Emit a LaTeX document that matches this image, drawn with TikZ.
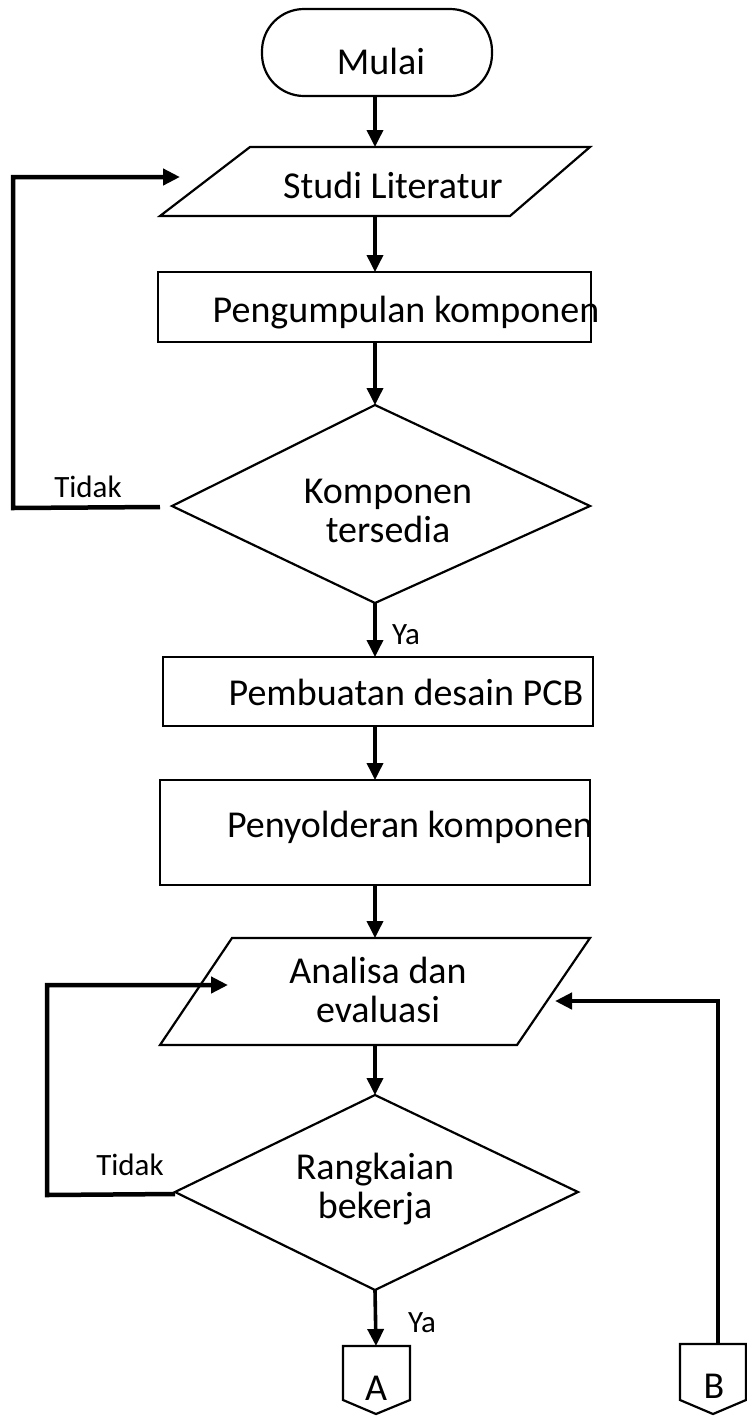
\documentclass[tikz,border=0pt]{standalone}
\usepackage{fontspec}
\setmainfont{Carlito}
\usetikzlibrary{arrows.meta,shapes.geometric}
\begin{document}
\begin{tikzpicture}[x=1pt,y=-1pt,
  shapeline/.style={draw=black,line width=2.2pt,line join=miter},
  conn/.style={draw=black,line width=3.6pt},
  arr/.style={conn,-{Triangle[length=17pt,width=16pt]}},
  big/.style={font=\fontsize{38}{44}\selectfont,inner sep=0pt},
  small/.style={font=\fontsize{31}{36}\selectfont,inner sep=0pt},
  txt/.style={big,align=center}]
\useasboundingbox (0,0) rectangle (747,1417);
% shapes
\draw[shapeline,rounded corners=42pt] (262,9) rectangle (492,96);
\node[txt] (mulai) at (381,61) {Mulai};
\coordinate (mulaiB) at (375,96);

\draw[shapeline] (160,216) -- (250,147) -- (590,147) -- (510,216) -- cycle;
\node[txt] (studi) at (393,185) {Studi Literatur};
\coordinate (studiT) at (375,147);
\coordinate (studiB) at (375,216);
\coordinate (studiL) at (180,177);

\draw[shapeline] (158,272) rectangle (591,342);
\node[txt] (kump) at (406,313) {Pengumpulan komponen};
\coordinate (kumpT) at (375,272);
\coordinate (kumpB) at (375,342);

\draw[shapeline] (375,405) -- (590,506) -- (375,603) -- (172,506) -- cycle;
\node[txt] (kt) at (388,511) {Komponen\\[-5pt]tersedia};
\coordinate (ktT) at (375,405);
\coordinate (ktB) at (375,603);
\coordinate (ktL) at (160,507);

\draw[shapeline] (163,657) rectangle (593,726);
\node[txt] (pcb) at (406,692) {Pembuatan desain PCB};
\coordinate (pcbT) at (375,657);
\coordinate (pcbB) at (375,726);

\draw[shapeline] (160,780) rectangle (590,885);
\node[txt] (solder) at (410,827) {Penyolderan komponen};
\coordinate (solderT) at (375,780);
\coordinate (solderB) at (375,885);

\draw[shapeline] (160,1045) -- (232,938) -- (590,938) -- (517,1045) -- cycle;
\node[txt] (anal) at (378,990) {Analisa dan\\[-5pt]evaluasi};
\coordinate (analT) at (375,938);
\coordinate (analB) at (375,1045);
\coordinate (analL) at (228,985);
\coordinate (analR) at (555,1001);

\draw[shapeline] (375,1095) -- (578,1192) -- (375,1290) -- (175,1192) -- cycle;
\node[txt] (rb) at (375,1189) {Rangkaian\\[-5pt]bekerja};
\coordinate (rbT) at (375,1095);
\coordinate (rbB) at (375,1290);
\coordinate (rbL) at (175,1194);

\draw[shapeline] (343,1346) -- (410,1346) -- (410,1400) -- (376,1414) -- (343,1400) -- cycle;
\node[txt] (A) at (376,1388) {A};
\coordinate (AT) at (376,1346);

\draw[shapeline] (680,1344) -- (746,1344) -- (746,1400) -- (713,1414) -- (680,1400) -- cycle;
\node[txt] (B) at (714,1386) {B};
\coordinate (BT) at (718,1344);

% connectors
\draw[arr] (mulaiB) -- (studiT);
\draw[arr] (studiB) -- (kumpT);
\draw[arr] (kumpB) -- (ktT);
\draw[arr] (ktB) -- (pcbT);
\draw[arr] (pcbB) -- (solderT);
\draw[arr] (solderB) -- (analT);
\draw[arr] (analB) -- (rbT);
\draw[arr] (rbB) -- (AT);
\draw[arr,line width=4.5pt] (ktL) -- (13,508) -- (13,177) -- (studiL);
\draw[arr,line width=4.5pt] (rbL) -- (47,1195) -- (47,985) -- (analL);
\draw[arr,line width=4.5pt] (BT) -- (718,1001) -- (analR);

% labels
\node[small] (t1) at (88,487) {Tidak};
\node[small] (t2) at (130,1165) {Tidak};
\node[small] (y1) at (406,635) {Ya};
\node[small] (y2) at (422,1323) {Ya};
\end{tikzpicture}
\end{document}
